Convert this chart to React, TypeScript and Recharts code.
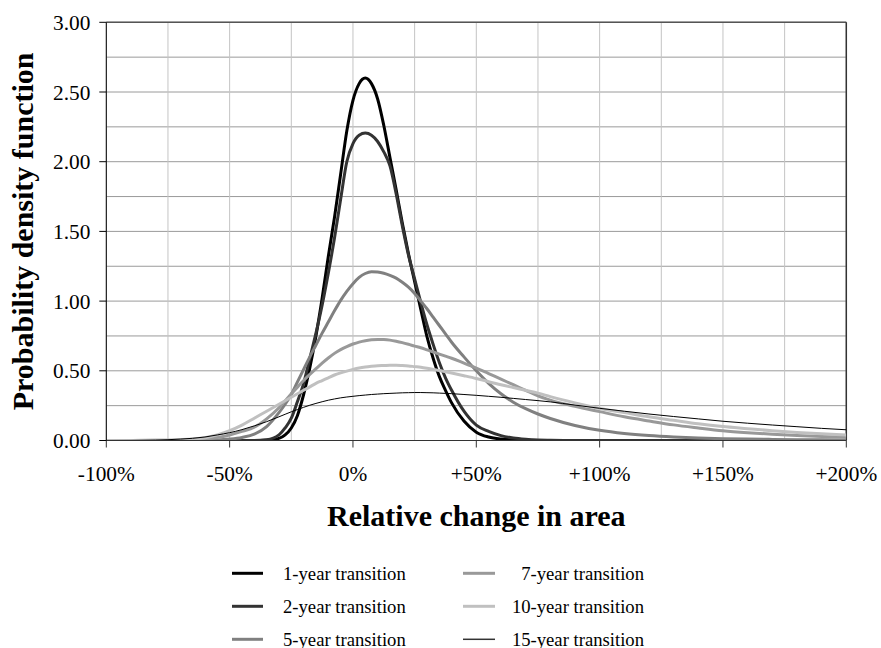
import React from 'react';
import { LineChart, Line, XAxis, YAxis, CartesianGrid, ReferenceLine } from 'recharts';

const FONT = '"Liberation Serif", "Times New Roman", Times, serif';

// Relative change in area (%)
const xValues = [
  -100, -90, -80, -70, -60, -55, -50, -45, -40, -35,
  -30, -27.5, -25, -22.5, -20, -17.5, -15, -12.5, -10, -7.5,
  -5, -2.5, 0, 2.5, 5, 7.5, 10, 12.5, 15, 17.5,
  20, 22.5, 25, 27.5, 30, 32.5, 35, 37.5, 40, 45,
  50, 55, 60, 65, 70, 75, 80, 90, 100, 110,
  120, 130, 140, 150, 160, 170, 180, 190, 200,
];

const year1 = [
  0, 0, 0, 0, 0, 0, 0, 0, 0, 0.002,
  0.015, 0.04, 0.09, 0.18, 0.33, 0.52, 0.75, 1.02, 1.32, 1.6,
  1.91, 2.22, 2.44, 2.56, 2.6, 2.56, 2.45, 2.26, 2.03, 1.8,
  1.56, 1.34, 1.14, 0.94, 0.745, 0.59, 0.46, 0.36, 0.27, 0.14,
  0.06, 0.025, 0.01, 0.004, 0.001, 0, 0, 0, 0, 0,
  0, 0, 0, 0, 0, 0, 0, 0, 0,
];

const year2 = [
  0, 0, 0, 0, 0, 0, 0, 0, 0, 0.005,
  0.04, 0.09, 0.16, 0.28, 0.41, 0.59, 0.77, 0.97, 1.2, 1.45,
  1.73, 2.0, 2.13, 2.19, 2.205, 2.19, 2.145, 2.07, 1.97, 1.77,
  1.54, 1.33, 1.16, 0.99, 0.83, 0.69, 0.56, 0.45, 0.36, 0.21,
  0.11, 0.065, 0.035, 0.018, 0.009, 0.004, 0.002, 0, 0, 0,
  0, 0, 0, 0, 0, 0, 0, 0, 0,
];

const year5 = [
  0, 0, 0, 0, 0.001, 0.003, 0.01, 0.022, 0.045, 0.1,
  0.2, 0.26, 0.33, 0.42, 0.51, 0.6, 0.685, 0.77, 0.85, 0.93,
  1.005, 1.07, 1.125, 1.17, 1.198, 1.21, 1.208, 1.2, 1.185, 1.165,
  1.135, 1.1, 1.055, 1.0, 0.945, 0.885, 0.825, 0.765, 0.705, 0.6,
  0.5, 0.41, 0.335, 0.275, 0.228, 0.19, 0.158, 0.108, 0.073, 0.05,
  0.035, 0.025, 0.018, 0.013, 0.01, 0.008, 0.006, 0.005, 0.004,
];

const year7 = [
  0, 0, 0.001, 0.004, 0.012, 0.022, 0.04, 0.065, 0.095, 0.155,
  0.235, 0.285, 0.335, 0.383, 0.43, 0.474, 0.515, 0.555, 0.592, 0.625,
  0.652, 0.674, 0.692, 0.706, 0.716, 0.722, 0.725, 0.724, 0.72, 0.712,
  0.702, 0.69, 0.677, 0.665, 0.65, 0.635, 0.62, 0.605, 0.59, 0.555,
  0.52, 0.48, 0.44, 0.4, 0.36, 0.32, 0.29, 0.245, 0.207, 0.17,
  0.14, 0.112, 0.09, 0.07, 0.056, 0.045, 0.036, 0.029, 0.023,
];

const year10 = [
  0, 0.0005, 0.002, 0.006, 0.02, 0.04, 0.07, 0.11, 0.16, 0.21,
  0.26, 0.285, 0.31, 0.335, 0.36, 0.385, 0.41, 0.43, 0.45, 0.47,
  0.485, 0.498, 0.51, 0.52, 0.527, 0.532, 0.536, 0.538, 0.54, 0.54,
  0.538, 0.535, 0.53, 0.525, 0.518, 0.51, 0.502, 0.493, 0.484, 0.465,
  0.445, 0.422, 0.4, 0.38, 0.36, 0.34, 0.315, 0.27, 0.23, 0.2,
  0.17, 0.145, 0.12, 0.1, 0.085, 0.07, 0.058, 0.048, 0.04,
];

const year15 = [
  0, 0.0005, 0.003, 0.01, 0.025, 0.04, 0.056, 0.078, 0.105, 0.135,
  0.17, 0.188, 0.206, 0.222, 0.238, 0.253, 0.266, 0.278, 0.289, 0.298,
  0.306, 0.312, 0.317, 0.322, 0.326, 0.33, 0.333, 0.336, 0.338, 0.34,
  0.342, 0.343, 0.344, 0.344, 0.343, 0.342, 0.34, 0.338, 0.336, 0.33,
  0.324, 0.317, 0.31, 0.302, 0.294, 0.286, 0.277, 0.254, 0.231, 0.21,
  0.19, 0.172, 0.155, 0.138, 0.124, 0.111, 0.099, 0.087, 0.077,
];

const seriesNames = [
  '1-year transition',
  '2-year transition',
  '5-year transition',
  '7-year transition',
  '10-year transition',
  '15-year transition',
];
const seriesKeys = ['y1', 'y2', 'y5', 'y7', 'y10', 'y15'];
const seriesColors = ['#000000', '#333333', '#808080', '#999999', '#c0c0c0', '#000000'];
const seriesWidths = [3, 3, 3, 3, 3, 1];
const legendColors = ['#000000', '#333333', '#808080', '#999999', '#c0c0c0', '#333333'];
const legendWidths = [3, 3, 3, 3, 3, 1.5];

const xTicks = [-100, -75, -50, -25, 0, 25, 50, 75, 100, 125, 150, 175, 200];
const yTicks = [0, 0.25, 0.5, 0.75, 1, 1.25, 1.5, 1.75, 2, 2.25, 2.5, 2.75, 3];

const data = xValues.map((x, i) => ({
  x,
  y1: year1[i],
  y2: year2[i],
  y5: year5[i],
  y7: year7[i],
  y10: year10[i],
  y15: year15[i],
}));

const W = 881;
const H = 648;
const TICK_FS = 21.33;

function XTick(props: any) {
  const { x, y, payload } = props;
  const v = payload.value;
  if (Math.abs(v % 50) > 1e-9) return <g />;
  const label = v > 0 ? `+${v}%` : `${v}%`;
  return (
    <g>
      <line x1={x} x2={x} y1={y} y2={y + 7} stroke="#333" strokeWidth={1} />
      <text x={x} y={y + 40.5} textAnchor="middle" fontFamily={FONT} fontSize={TICK_FS} fill="#000">
        {label}
      </text>
    </g>
  );
}

function YTick(props: any) {
  const { x, y, payload } = props;
  const v = payload.value;
  if (Math.abs(v * 2 - Math.round(v * 2)) > 1e-9) return <g />;
  return (
    <g>
      <line x1={x - 7} x2={x} y1={y} y2={y} stroke="#000" strokeWidth={1} />
      <text x={x - 16} y={y + 7.5} textAnchor="end" fontFamily={FONT} fontSize={TICK_FS} fill="#000">
        {v.toFixed(2)}
      </text>
    </g>
  );
}

function XTitle(props: any) {
  const vb = props.viewBox || { x: 106.3, y: 440.5, width: 740, height: 207.5 };
  const cx = vb.x + vb.width / 2;
  return (
    <text x={cx} y={vb.y + 85.5} textAnchor="middle" fontFamily={FONT} fontSize={30} fontWeight="bold" fill="#000">
      Relative change in area
    </text>
  );
}

function YTitle(props: any) {
  const vb = props.viewBox || { x: 0, y: 22.3, width: 106.3, height: 418.2 };
  const cy = vb.y + vb.height / 2;
  const bx = 33;
  return (
    <text
      x={bx}
      y={cy}
      transform={`rotate(-90, ${bx}, ${cy})`}
      textAnchor="middle"
      fontFamily={FONT}
      fontSize={30}
      fontWeight="bold"
      fill="#000"
    >
      Probability density function
    </text>
  );
}

function LegendOverlay() {
  const rows = [573.3, 606.3, 639.3];
  const items = seriesNames.map((name, i) => {
    const col = i < 3 ? 0 : 1;
    const row = i % 3;
    const y = rows[row];
    const lx1 = col === 0 ? 232 : 463;
    const lx2 = col === 0 ? 263 : 495;
    const tx = col === 0 ? 283 : 644;
    return (
      <g key={name}>
        <line x1={lx1} x2={lx2} y1={y} y2={y} stroke={legendColors[i]} strokeWidth={legendWidths[i]} />
        <text
          x={tx}
          y={y + 6.2}
          textAnchor={col === 0 ? 'start' : 'end'}
          fontFamily={FONT}
          fontSize={18.67}
          fill="#000"
        >
          {name}
        </text>
      </g>
    );
  });
  return (
    <svg width={W} height={H} style={{ position: 'absolute', left: 0, top: 0, pointerEvents: 'none' }}>
      {items}
    </svg>
  );
}

export default function App() {
  return (
    <div style={{ position: 'absolute', left: 0, top: 0, width: W, height: H, background: '#fff' }}>
      <LineChart
        width={W}
        height={H}
        data={data}
        margin={{ top: 22.3, right: 34.7, bottom: 0, left: 0 }}
      >
        <CartesianGrid vertical={false} stroke="#9a9a9a" strokeWidth={1} />
        <CartesianGrid horizontal={false} stroke="#c4c4c4" strokeWidth={1} />
        <XAxis
          dataKey="x"
          type="number"
          domain={[-100, 200]}
          ticks={xTicks}
          interval={0}
          tickSize={0}
          tickMargin={0}
          tickLine={false}
          tick={<XTick />}
          axisLine={{ stroke: '#333', strokeWidth: 1 }}
          height={207.5}
          allowDataOverflow
          label={<XTitle />}
        />
        <YAxis
          type="number"
          domain={[0, 3]}
          ticks={yTicks}
          interval={0}
          tickSize={0}
          tickMargin={0}
          tickLine={false}
          tick={<YTick />}
          axisLine={{ stroke: '#000', strokeWidth: 1 }}
          width={106.3}
          allowDataOverflow
          label={<YTitle />}
        />
        <ReferenceLine y={3} stroke="#555" strokeWidth={1.5} />
        <ReferenceLine x={200} stroke="#333" strokeWidth={1.5} />
        {seriesKeys.map((k, i) => (
          <Line
            key={k}
            dataKey={k}
            name={seriesNames[i]}
            type="monotone"
            stroke={seriesColors[i]}
            strokeWidth={seriesWidths[i]}
            dot={false}
            activeDot={false}
            isAnimationActive={false}
          />
        ))}
      </LineChart>
      <LegendOverlay />
    </div>
  );
}
